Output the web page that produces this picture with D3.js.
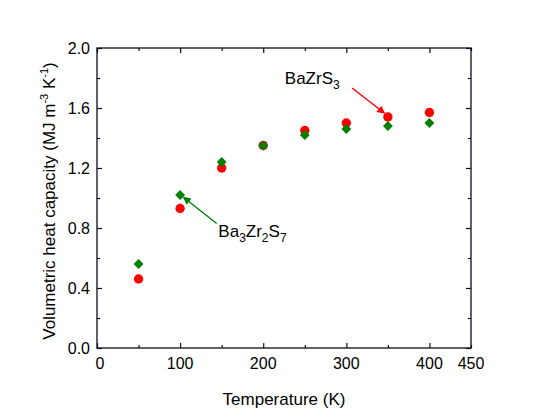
<!DOCTYPE html>
<html>
<head>
<meta charset="utf-8">
<script src="https://cdn.jsdelivr.net/npm/d3@7"></script>
<style>
  body { margin: 0; background: #fff; }
  text { font-family: "Liberation Sans", Arial, sans-serif; fill: #000; }
</style>
</head>
<body>
<div id="chart"></div>
<script>
// data
var temperatures = [50, 100, 150, 200, 250, 300, 350, 400];
var bazrs3 = [0.46, 0.93, 1.20, 1.35, 1.45, 1.50, 1.54, 1.57];
var ba3zr2s7 = [0.56, 1.02, 1.24, 1.35, 1.42, 1.46, 1.48, 1.50];
var xTickLabels = [0, 100, 200, 300, 400, 450];
var yTickLabels = [0.0, 0.4, 0.8, 1.2, 1.6, 2.0];

var W = 547, H = 419;
var margin = { top: 48, right: 76, bottom: 71, left: 97 },
    width = W - margin.left - margin.right,
    height = H - margin.top - margin.bottom;

var frameColor = "#0d0d1f";

var svg = d3.select("#chart").append("svg")
    .attr("width", W).attr("height", H);

var defs = svg.append("defs");
function arrowHead(id, color) {
  defs.append("marker")
    .attr("id", id)
    .attr("viewBox", "0 0 10 10")
    .attr("refX", 9).attr("refY", 5)
    .attr("markerWidth", 10).attr("markerHeight", 8)
    .attr("markerUnits", "userSpaceOnUse")
    .attr("orient", "auto")
    .append("path")
    .attr("d", "M0,0 L10,5 L0,10 Z")
    .attr("fill", color);
}
arrowHead("headRed", "#ff0000");
arrowHead("headGreen", "#008000");

var g = svg.append("g")
    .attr("transform", "translate(" + margin.left + "," + margin.top + ")");

var x = d3.scaleLinear().domain([0, 450]).range([0, width]);
var y = d3.scaleLinear().domain([0, 2.0]).range([height, 0]);

// ticks point inward on all four sides, major and minor
var xMajor = [0, 100, 200, 300, 400], xMinor = [50, 150, 250, 350, 450];
var yMajor = [0, 0.4, 0.8, 1.2, 1.6, 2.0], yMinor = [0.2, 0.6, 1.0, 1.4, 1.8];

function addAxis(axis, vals, len, tx, ty) {
  g.append("g")
    .attr("transform", "translate(" + tx + "," + ty + ")")
    .call(axis.tickValues(vals).tickSizeInner(-len).tickSizeOuter(0).tickFormat(""))
    .call(function(a) { a.select(".domain").remove(); })
    .selectAll(".tick line").attr("stroke", frameColor).attr("stroke-width", 1.2);
}
addAxis(d3.axisBottom(x), xMajor, 5, 0, height);
addAxis(d3.axisBottom(x), xMinor, 3, 0, height);
addAxis(d3.axisTop(x), xMajor, 5, 0, 0);
addAxis(d3.axisTop(x), xMinor, 3, 0, 0);
addAxis(d3.axisLeft(y), yMajor, 5, 0, 0);
addAxis(d3.axisLeft(y), yMinor, 3, 0, 0);
addAxis(d3.axisRight(y), yMajor, 5, width, 0);
addAxis(d3.axisRight(y), yMinor, 3, width, 0);

// frame
g.append("rect")
  .attr("width", width).attr("height", height)
  .attr("fill", "none").attr("stroke", frameColor).attr("stroke-width", 1.3);

// tick labels
g.selectAll(".xlab").data(xTickLabels).enter().append("text")
  .attr("x", function(d) { return x(d) + (d === 0 ? 3 : 0); })
  .attr("y", height + 21)
  .attr("text-anchor", "middle")
  .style("font-size", "16px")
  .text(function(d) { return d; });

g.selectAll(".ylab").data(yTickLabels).enter().append("text")
  .attr("x", -7)
  .attr("y", function(d) { return y(d); })
  .attr("dy", "0.36em")
  .attr("text-anchor", "end")
  .style("font-size", "16px")
  .text(function(d) { return d.toFixed(1); });

// axis titles
g.append("text")
  .attr("x", width / 2).attr("y", height + 57)
  .attr("text-anchor", "middle")
  .style("font-size", "17px")
  .text("Temperature (K)");

var yt = svg.append("text")
  .attr("transform", "translate(55," + (margin.top + height / 2 + 3) + ") rotate(-90)")
  .attr("text-anchor", "middle")
  .style("font-size", "17px");
yt.append("tspan").text("Volumetric heat capacity (MJ m");
yt.append("tspan").attr("dy", -7).style("font-size", "11px").text("-3");
yt.append("tspan").attr("dy", 7).text(" K");
yt.append("tspan").attr("dy", -7).style("font-size", "11px").text("-1");
yt.append("tspan").attr("dy", 7).text(")");

// BaZrS3 red circles
g.selectAll(".c1").data(temperatures).enter().append("circle")
  .attr("cx", function(d) { return x(d); })
  .attr("cy", function(d, i) { return y(bazrs3[i]); })
  .attr("r", 4.7)
  .attr("fill", "#ff0000");

// Ba3Zr2S7 green diamonds
var diamond = d3.symbol().type(d3.symbolDiamond2).size(62);
g.selectAll(".d1").data(temperatures).enter().append("path")
  .attr("transform", function(d, i) {
    return "translate(" + x(d) + "," + y(ba3zr2s7[i]) + ")";
  })
  .attr("d", diamond)
  .attr("fill", "#008000");

// annotations, subscripts shift down then back up on the next piece
function label(tx, ty, parts) {
  var t = g.append("text").attr("x", tx).attr("y", ty).style("font-size", "17px");
  var down = false;
  parts.forEach(function(p) {
    var s = t.append("tspan").text(p.s);
    if (p.sub) {
      s.attr("dy", 5).style("font-size", "12px");
      down = true;
    } else if (down) {
      s.attr("dy", -5);
      down = false;
    }
  });
}
label(x(226), y(1.76), [{ s: "BaZrS" }, { s: "3", sub: true }]);
label(x(146), y(0.74), [{ s: "Ba" }, { s: "3", sub: true }, { s: "Zr" }, { s: "2", sub: true }, { s: "S" }, { s: "7", sub: true }]);

g.append("line")
  .attr("x1", x(307)).attr("y1", y(1.733))
  .attr("x2", x(346)).attr("y2", y(1.565))
  .attr("stroke", "#ff0000").attr("stroke-width", 1.4)
  .attr("marker-end", "url(#headRed)");
g.append("line")
  .attr("x1", x(144)).attr("y1", y(0.83))
  .attr("x2", x(104)).attr("y2", y(1.005))
  .attr("stroke", "#008000").attr("stroke-width", 1.4)
  .attr("marker-end", "url(#headGreen)");
</script>
</body>
</html>
